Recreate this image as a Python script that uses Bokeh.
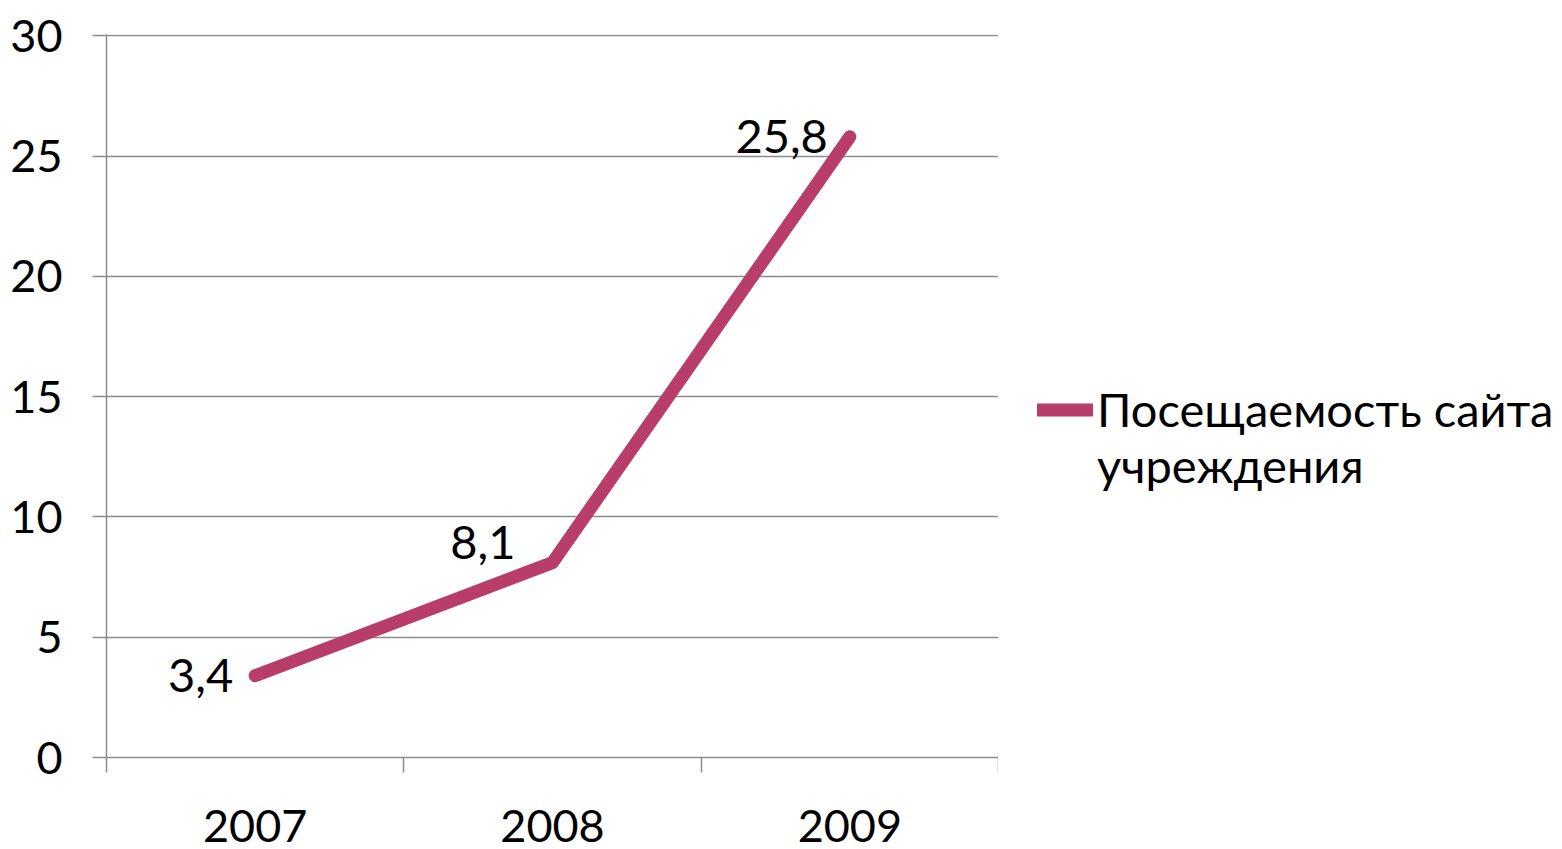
from bokeh.plotting import figure
from bokeh.layouts import row
from bokeh.models import FixedTicker, Legend, LegendItem, ColumnDataSource, Range1d
from bokeh.core.properties import value
from bokeh.embed import file_html
from bokeh.resources import INLINE

years = ["2007", "2008", "2009"]
visits = [3.4, 8.1, 25.8]
series_lines = ["Посещаемость сайта", "учреждения"]
y_ticks = [0, 5, 10, 15, 20, 25, 30]

FONT = "Lato"
LINE_COLOR = "#B83D6A"
GRID = "#8C8C8C"

n = len(years)
xs = [i + 0.5 for i in range(n)]
labels = [f"{v}".replace(".", ",") for v in visits]
src = ColumnDataSource(dict(x=xs, y=visits, lab=labels,
                            xo=[-22, -37, -22], yo=[0, -20, 0]))

p = figure(width=998, height=849, output_backend="svg", toolbar_location=None,
           x_range=Range1d(0, n), y_range=Range1d(0, 30.05),
           min_border_left=106, min_border_top=34, min_border_bottom=92,
           min_border_right=0)
p.outline_line_color = None
p.background_fill_color = "white"

r = p.line("x", "y", source=src, line_color=LINE_COLOR, line_width=13,
           line_cap="round", line_join="round")
p.text("x", "y", text="lab", source=src, x_offset="xo", y_offset="yo",
       text_align="right", text_baseline="middle", text_font=value(FONT),
       text_font_size="47px", text_color="black")

# x axis
p.xaxis.ticker = FixedTicker(ticks=xs, minor_ticks=list(range(n + 1)))
p.xaxis.major_label_overrides = {x: y for x, y in zip(xs, years)}
p.xaxis.major_tick_out = 0
p.xaxis.major_tick_in = 0
p.xaxis.minor_tick_out = 15
p.xaxis.minor_tick_in = 0
p.xaxis.minor_tick_line_color = GRID
p.xaxis.minor_tick_line_width = 1.5
p.xaxis.axis_line_color = GRID
p.xaxis.axis_line_width = 1.5
p.xaxis.major_label_standoff = 37
p.xaxis.major_label_text_font = FONT
p.xaxis.major_label_text_font_size = "45px"
p.xaxis.major_label_text_color = "black"

# y axis
p.yaxis.ticker = FixedTicker(ticks=y_ticks, minor_ticks=[])
p.yaxis.major_tick_out = 14
p.yaxis.major_tick_in = 0
p.yaxis.major_tick_line_color = GRID
p.yaxis.major_tick_line_width = 1.5
p.yaxis.axis_line_color = GRID
p.yaxis.axis_line_width = 1.5
p.yaxis.major_label_standoff = 30
p.yaxis.major_label_text_font = FONT
p.yaxis.major_label_text_font_size = "45px"
p.yaxis.major_label_text_color = "black"

p.xgrid.grid_line_color = None
p.ygrid.grid_line_color = GRID
p.ygrid.grid_line_width = 1.5
p.ygrid.ticker = FixedTicker(ticks=y_ticks)

# legend area to the right of the plot
lg = figure(width=564, height=849, output_backend="svg", toolbar_location=None,
            x_axis_type=None, y_axis_type=None, min_border=0,
            x_range=Range1d(0, 1), y_range=Range1d(0, 1))
lg.outline_line_color = None
lg.xgrid.grid_line_color = None
lg.ygrid.grid_line_color = None
# key renderer kept outside the visible range; only its legend glyph shows
key = lg.line(x=[5, 6], y=[5, 5], line_color=LINE_COLOR, line_width=13,
              line_cap="round")
blank = lg.line(x=[5, 6], y=[5, 5], line_alpha=0)

legend = Legend(items=[LegendItem(label=series_lines[0], renderers=[key]),
                       LegendItem(label=series_lines[1], renderers=[blank])],
                location=(39, 264), border_line_color=None,
                background_fill_alpha=0,
                label_text_font=FONT, label_text_font_size="47px",
                label_text_color="black", glyph_width=56, glyph_height=55,
                label_standoff=4, padding=0, margin=0, label_height=55,
                spacing=0)
lg.add_layout(legend, "center")

layout = row(p, lg, spacing=0)
open("out.html", "w").write(file_html(layout, INLINE))
